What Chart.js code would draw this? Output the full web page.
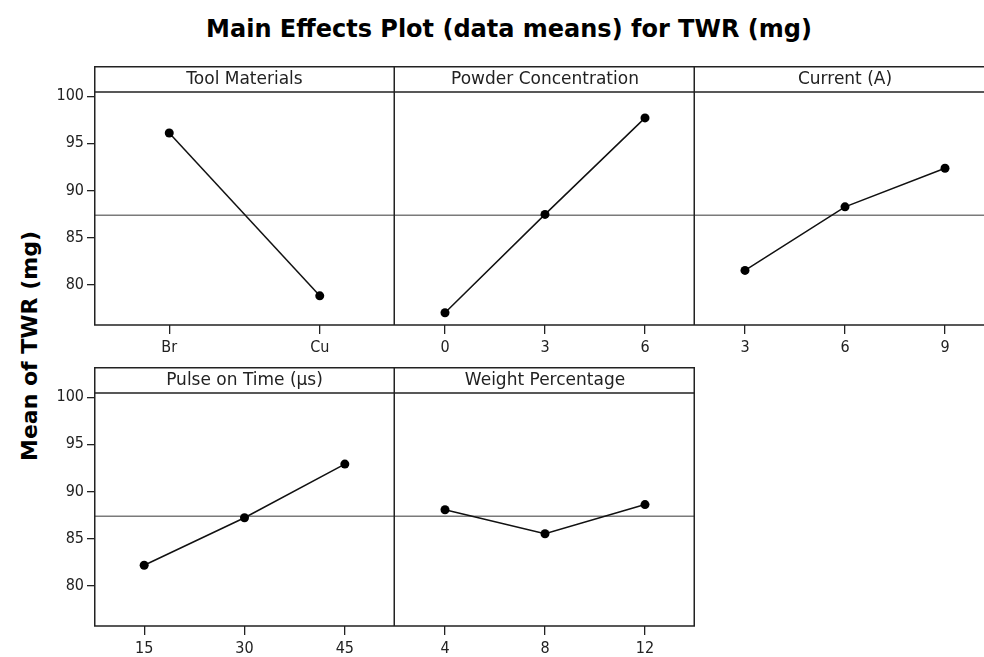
<!DOCTYPE html>
<html>
<head>
<meta charset="utf-8">
<script src="https://cdn.jsdelivr.net/npm/chart.js@4.4.1/dist/chart.umd.min.js"></script>
<style>
  body { margin: 0; background: #fff; width: 984px; height: 657px; overflow: hidden; position: relative; }
  #title {
    position: absolute; top: 15px; left: 0; width: 1018px; text-align: center;
    font: bold 24px "DejaVu Sans", sans-serif; color: #000;
  }
  #ylabel {
    position: absolute; left: -170px; top: 333px; width: 400px; height: 26px; line-height: 26px;
    text-align: center; transform: rotate(-90deg);
    font: bold 22px "DejaVu Sans", sans-serif; color: #000;
  }
  canvas { position: absolute; }
</style>
</head>
<body>
<div id="title">Main Effects Plot (data means) for TWR (mg)</div>
<div id="ylabel">Mean of TWR (mg)</div>
<script>
// === Data ===
const toolLevels = ["Br", "Cu"];
const toolMeans = [96.1, 78.8];

const powderLevels = ["0", "3", "6"];
const powderMeans = [77.0, 87.45, 97.7];

const currentLevels = ["3", "6", "9"];
const currentMeans = [81.5, 88.25, 92.35];

const pulseLevels = ["15", "30", "45"];
const pulseMeans = [82.15, 87.2, 92.9];

const weightLevels = ["4", "8", "12"];
const weightMeans = [88.05, 85.5, 88.6];

const grandMean = 87.35;
const yTickValues = [80, 85, 90, 95, 100];
const yMin = 75.7;
const yMax = 100.45;

// === Layout ===
const FONT = '"DejaVu Sans Condensed", "DejaVu Sans", sans-serif';
const HEADER_FONT = '"DejaVu Sans", sans-serif';
const HEADER_H = 26;
const AREA_H = 233;
const XAXIS_H = 40;
const Y_AXIS_W = 94;

const panels = [
  { name: "Tool Materials", levels: toolLevels, means: toolMeans, left: 0, top: 66, first: true },
  { name: "Powder Concentration", levels: powderLevels, means: powderMeans, left: 395, top: 66 },
  { name: "Current (A)", levels: currentLevels, means: currentMeans, left: 695, top: 66 },
  { name: "Pulse on Time (\u00b5s)", levels: pulseLevels, means: pulseMeans, left: 0, top: 367, first: true },
  { name: "Weight Percentage", levels: weightLevels, means: weightMeans, left: 395, top: 367 },
];

// frame, header strip and grand-mean line
const panelFrame = {
  id: "panelFrame",
  beforeDatasetsDraw(chart, args, opts) {
    const { ctx, chartArea: a, scales } = chart;
    const y = scales.y.getPixelForValue(grandMean);
    ctx.save();
    ctx.strokeStyle = "#7a7a7a";
    ctx.lineWidth = 1.5;
    ctx.beginPath();
    ctx.moveTo(a.left, y);
    ctx.lineTo(a.right, y);
    ctx.stroke();
    ctx.restore();
  },
  afterDraw(chart, args, opts) {
    const { ctx, chartArea: a } = chart;
    ctx.save();
    ctx.strokeStyle = "#222";
    ctx.lineWidth = 1.5;
    ctx.beginPath();
    // top of header, header bottom, plot bottom
    ctx.moveTo(a.left, 0.75); ctx.lineTo(a.right, 0.75);
    ctx.moveTo(a.left, a.top); ctx.lineTo(a.right, a.top);
    ctx.moveTo(a.left, a.bottom); ctx.lineTo(a.right, a.bottom);
    if (opts.first) {
      ctx.moveTo(a.left + 0.75, 0); ctx.lineTo(a.left + 0.75, a.bottom);
    }
    ctx.moveTo(a.right - 0.75, 0); ctx.lineTo(a.right - 0.75, a.bottom);
    ctx.stroke();

    ctx.fillStyle = "#222";
    ctx.font = "17px " + HEADER_FONT;
    ctx.textAlign = "center";
    ctx.textBaseline = "middle";
    ctx.fillText(opts.name, (a.left + a.right) / 2, a.top / 2 + 1);
    ctx.restore();
  },
};

function makePanel(p) {
  const cv = document.createElement("canvas");
  const yW = p.first ? Y_AXIS_W : 0;
  const w = p.first ? Y_AXIS_W + 301 : 300;
  const h = HEADER_H + AREA_H + XAXIS_H;
  cv.width = w;
  cv.height = h;
  cv.style.left = p.left + "px";
  cv.style.top = p.top + "px";
  document.body.appendChild(cv);

  new Chart(cv, {
    type: "line",
    data: {
      labels: p.levels,
      datasets: [
        {
          data: p.means,
          borderColor: "#111",
          borderWidth: 1.5,
          pointRadius: 4.5,
          pointBorderWidth: 0,
          pointBackgroundColor: "#000",
          tension: 0,
        },
      ],
    },
    options: {
      responsive: false,
      animation: false,
      layout: { autoPadding: false, padding: { top: HEADER_H, left: 0, right: 0, bottom: 0 } },
      plugins: {
        legend: { display: false },
        tooltip: { enabled: false },
        panelFrame: { name: p.name, first: !!p.first },
      },
      scales: {
        x: {
          type: "category",
          offset: true,
          border: { display: false },
          grid: {
            drawOnChartArea: false,
            drawTicks: true,
            tickLength: 9,
            color: "#222",
            lineWidth: 1.3,
          },
          ticks: { font: { size: 16, family: FONT }, color: "#222", padding: 4, maxRotation: 0 },
          afterFit: (s) => { s.height = XAXIS_H; },
        },
        y: {
          display: !!p.first,
          min: yMin,
          max: yMax,
          border: { display: false },
          grid: {
            drawOnChartArea: false,
            drawTicks: true,
            tickLength: 7,
            color: "#222",
            lineWidth: 1.3,
          },
          ticks: { font: { size: 16, family: FONT }, color: "#222", padding: 3 },
          afterBuildTicks: (s) => { s.ticks = yTickValues.map((v) => ({ value: v })); },
          afterFit: (s) => { s.width = yW; },
        },
      },
    },
    plugins: [panelFrame],
  });
}

panels.forEach(makePanel);
</script>
</body>
</html>
